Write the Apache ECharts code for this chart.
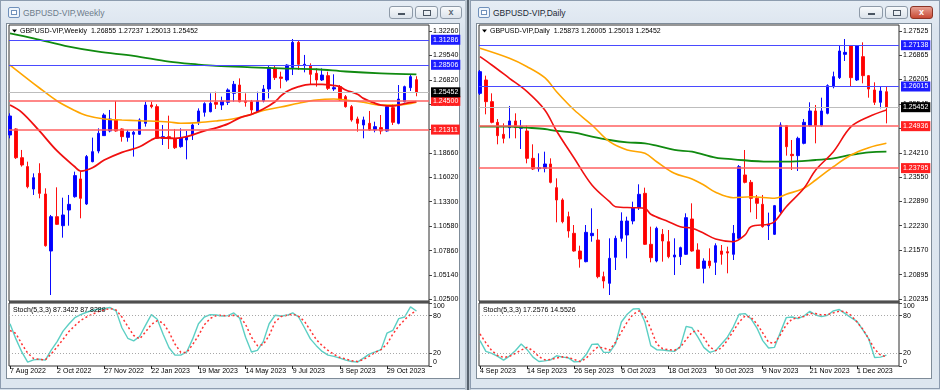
<!DOCTYPE html>
<html><head><meta charset="utf-8">
<script src="https://cdn.jsdelivr.net/npm/echarts@6.0.0/dist/echarts.min.js"></script>
<style>
html,body{margin:0;padding:0;background:#d6e0ea;}
#wrap{position:relative;width:940px;height:390px;overflow:hidden;background:#d6e0ea;font-family:"Liberation Sans",Arial,sans-serif;}
.win{position:absolute;top:0;height:389px;border:1px solid #8d9caf;background:linear-gradient(#e6edf5,#dbe4ee 30px,#dde6ef);box-sizing:border-box;}
.client{position:absolute;top:23px;height:356px;background:#fff;border:1px solid #7f8c99;box-sizing:border-box;}
.ttl{position:absolute;top:8px;line-height:10px;font-size:8.5px;white-space:nowrap;}
.ico{position:absolute;top:7px;width:12px;height:11px;border:1px solid #6f90bb;border-radius:2px;background:#eef4fb;box-sizing:border-box;}
.ico i{position:absolute;left:2px;top:2px;width:6px;height:5px;border:1px solid #6f90bb;box-sizing:border-box;background:#fff;}
.btn{position:absolute;top:6px;height:13px;border:1px solid #8e9aa8;border-radius:3px;background:linear-gradient(#f8fafc,#dce3eb);box-sizing:border-box;}
.mn{position:absolute;left:8px;top:6px;width:7px;height:2px;background:#4a5562;}
.rs{position:absolute;left:7px;top:3px;width:8px;height:6px;border:1px solid #4a5562;box-sizing:border-box;}
.cx{position:absolute;left:0;right:0;top:0;line-height:11px;text-align:center;font-size:9px;font-weight:bold;color:#5b6673;}
.red{background:linear-gradient(#e7a092,#c84a35);border-color:#8c3426;}
.red .cx{color:#fff;}
.sep{position:absolute;top:301px;width:421px;height:3px;background:#707070;}
#chart{position:absolute;left:0;top:0;width:940px;height:390px;z-index:2;}
</style>
</head>
<body>
<div id="wrap">
  <div class="win" style="left:0;width:466px;"></div>
  <div style="position:absolute;left:465px;top:0;width:6px;height:390px;background:#b9c4cf;"></div>
  <div style="position:absolute;left:467px;top:0;width:2px;height:390px;background:#58636f;"></div>
  <div class="win" style="left:470px;width:470px;"></div>

  <div class="client" style="left:6px;width:454px;"></div>
  <div class="client" style="left:476px;width:456px;"></div>
  <div class="sep" style="left:9px;"></div>
  <div class="sep" style="left:479px;"></div>

  <div class="ico" style="left:8px;"><i></i></div>
  <div class="ttl" style="left:23px;color:#6d7b8a;">GBPUSD-VIP,Weekly</div>
  <div class="btn" style="left:389px;width:24px;"><div class="mn"></div></div>
  <div class="btn" style="left:415px;width:23px;"><div class="rs"></div></div>
  <div class="btn" style="left:440px;width:22px;"><div class="cx">x</div></div>

  <div class="ico" style="left:478px;"><i></i></div>
  <div class="ttl" style="left:493px;color:#1e2935;">GBPUSD-VIP,Daily</div>
  <div class="btn" style="left:859px;width:24px;"><div class="mn"></div></div>
  <div class="btn" style="left:885px;width:23px;"><div class="rs"></div></div>
  <div class="btn red" style="left:910px;width:23px;"><div class="cx">x</div></div>

  <div id="chart"></div>
</div>
<script>
// ---------------- WEEKLY DATA (70 bars, 7 Aug 2022 ... 3 Dec 2023) ----------------
const weeklyOpen = [1.2071,1.2138,1.1819,1.1720,1.1471,1.1645,1.1416,1.0783,1.1164,1.1064,1.1238,1.1386,1.1583,1.1305,1.1775,1.1893,1.2064,1.2116,1.2238,1.2138,1.2045,1.2079,1.2079,1.2201,1.2404,1.2386,1.2034,1.2053,1.2027,1.1942,1.2016,1.2071,1.2219,1.2323,1.2330,1.2434,1.2404,1.2434,1.2534,1.2626,1.2449,1.2441,1.2330,1.2449,1.2582,1.2811,1.2715,1.2682,1.2819,1.3100,1.2848,1.2841,1.2756,1.2682,1.2730,1.2582,1.2608,1.2497,1.2386,1.2249,1.2182,1.2201,1.2127,1.2153,1.2116,1.2375,1.2201,1.2441,1.2597,1.26855];
const weeklyHigh = [1.2312,1.2145,1.1905,1.1775,1.1645,1.1757,1.1479,1.1183,1.1490,1.1375,1.1405,1.1664,1.1664,1.1849,1.2042,1.2145,1.2312,1.2349,1.2449,1.2145,1.2127,1.2116,1.2256,1.2441,1.2441,1.2412,1.2182,1.2286,1.2138,1.2145,1.2116,1.2201,1.2367,1.2434,1.2534,1.2552,1.2497,1.2589,1.2671,1.2700,1.2534,1.2460,1.2552,1.2626,1.2848,1.2848,1.2774,1.2856,1.3137,1.3126,1.2960,1.2867,1.2811,1.2811,1.2774,1.2745,1.2626,1.2515,1.2404,1.2275,1.2275,1.2338,1.2219,1.2293,1.2404,1.2412,1.2626,1.2619,1.2745,1.27237];
const weeklyLow = [1.2034,1.1805,1.1720,1.1479,1.1405,1.1368,1.0831,1.0294,1.1072,1.0931,1.1064,1.1375,1.1146,1.1294,1.1768,1.1868,1.2060,1.2101,1.2108,1.1997,1.1997,1.1831,1.2071,1.2164,1.2367,1.2027,1.1960,1.1916,1.1916,1.1930,1.1801,1.2016,1.2182,1.2275,1.2323,1.2360,1.2349,1.2404,1.2441,1.2434,1.2386,1.2301,1.2323,1.2434,1.2478,1.2682,1.2589,1.2663,1.2737,1.2793,1.2767,1.2626,1.2608,1.2671,1.2571,1.2560,1.2449,1.2375,1.2219,1.2108,1.2034,1.2116,1.2101,1.2079,1.2108,1.2182,1.2190,1.2434,1.2560,1.25013];
const weeklyClose = [1.2282,1.1819,1.1738,1.1497,1.1597,1.1423,1.0842,1.1164,1.1079,1.1183,1.1301,1.1620,1.1368,1.1831,1.1886,1.2090,1.2293,1.2249,1.2116,1.2053,1.2101,1.2101,1.2238,1.2404,1.2386,1.2034,1.2053,1.2034,1.1930,1.2042,1.2053,1.2182,1.2338,1.2419,1.2423,1.2412,1.2449,1.2571,1.2634,1.2441,1.2434,1.2349,1.2449,1.2582,1.2819,1.2708,1.2700,1.2848,1.3100,1.2856,1.2856,1.2745,1.2682,1.2737,1.2589,1.2597,1.2460,1.2386,1.2238,1.2201,1.2238,1.2127,1.2164,1.2116,1.2386,1.2212,1.2470,1.2608,1.2719,1.25452];
// moving averages (bar number -> value)
const weeklyGreenBars = [1,5,11,16,22,28,33,36,42,47,53,58,64,70];
const weeklyGreen = [1.3200,1.3145,1.3052,1.2996,1.2950,1.2885,1.2853,1.2838,1.2823,1.2812,1.2801,1.2776,1.2756,1.2745];
const weeklyOrangeBars = [1,6,9,12,14,17,20,23,28,30,33,36,39,41,44,47,50,53,56,58,61,64,67,70];
const weeklyOrange = [1.2848,1.2593,1.2449,1.2343,1.2288,1.2249,1.2238,1.2230,1.2216,1.2201,1.2208,1.2227,1.2252,1.2282,1.2343,1.2382,1.2423,1.2460,1.2471,1.2460,1.2434,1.2404,1.2404,1.2434];
const weeklyRedBars = [1,3,6,9,12,13,15,17,20,23,25,26,29,31,34,36,38,40,42,44,46,47,48,50,52,54,56,57,58,60,61,63,64,66,68,70];
const weeklyRed = [1.2404,1.2323,1.2116,1.1894,1.1719,1.1671,1.1708,1.1793,1.1879,1.1941,1.2016,1.2041,1.2034,1.2052,1.2116,1.2150,1.2195,1.2262,1.2301,1.2360,1.2441,1.2505,1.2555,1.2608,1.2634,1.2634,1.2620,1.2608,1.2571,1.2523,1.2478,1.2423,1.2404,1.2393,1.2419,1.2441];
const weeklyStochK = [67.1,43.0,22.3,6.0,9.8,10.8,9.3,25.3,38.7,55.3,66.6,76.7,81.5,85.3,88.5,90.1,91.2,92.8,87.5,60.7,44.0,39.8,46.8,64.4,81.5,74.1,50.4,29.0,17.2,17.2,22.3,42.6,67.1,77.8,81.5,81.0,79.4,80.0,84.3,75.7,45.7,22.3,24.8,38.7,67.1,80.5,79.4,80.5,84.3,77.8,60.7,43.0,32.3,23.2,17.3,15.2,12.5,9.3,7.1,6.1,12.5,18.9,22.3,26.0,52.1,56.4,75.1,77.8,93.9,87.3];
const weeklyStochD = [56.4,51.6,34.9,20.5,12.0,10.3,9.8,19.0,30.3,42.2,54.8,63.9,72.4,77.8,82.1,86.4,89.1,91.2,89.1,77.8,62.8,48.4,43.0,53.9,66.0,71.9,68.2,53.9,34.9,21.6,21.6,33.9,48.4,65.5,75.5,79.9,80.5,79.4,80.5,78.9,66.0,45.7,32.3,33.9,48.4,69.8,78.4,80.5,82.1,78.9,70.9,56.4,41.9,32.3,24.8,18.4,13.6,11.4,8.2,7.1,10.3,15.7,21.6,25.9,34.9,50.5,63.4,73.5,82.1,87.5];
const weeklyDateBars = [1,9,17,25,33,41,49,57,65];
const weeklyDateLabels = ['7 Aug 2022','2 Oct 2022','27 Nov 2022','22 Jan 2023','19 Mar 2023','14 May 2023','9 Jul 2023','3 Sep 2023','29 Oct 2023'];
const weeklyPriceTicks = [1.02500,1.05140,1.07860,1.10580,1.13300,1.16020,1.18660,1.21380,1.24100,1.26820,1.29540,1.32260];
const weeklyBlueLevels = [1.31286,1.28506];
const weeklyRedLevels = [1.24500,1.21311];

// ---------------- DAILY DATA (70 bars, 4 Sep 2023 ... 8 Dec 2023) ----------------
const dailyOpen = [1.25829,1.26192,1.25603,1.25040,1.24714,1.24895,1.25077,1.24877,1.24805,1.24061,1.23780,1.23789,1.23907,1.23263,1.22928,1.22474,1.22021,1.21540,1.21250,1.21957,1.21839,1.20842,1.20661,1.21368,1.21885,1.21975,1.22356,1.22719,1.23109,1.21722,1.21268,1.21994,1.21794,1.21377,1.21386,1.21450,1.22411,1.21568,1.21069,1.21268,1.21232,1.21540,1.21522,1.21450,1.21885,1.23608,1.23408,1.22973,1.22810,1.22229,1.21994,1.22610,1.24950,1.24170,1.24134,1.24469,1.24950,1.25349,1.24950,1.25285,1.26011,1.26256,1.26890,1.27126,1.26192,1.26827,1.26310,1.25920,1.25585,1.25873];
const dailyHigh = [1.26464,1.26310,1.25829,1.25131,1.25013,1.25485,1.25285,1.25104,1.24950,1.24442,1.24197,1.24242,1.24061,1.23517,1.22973,1.22610,1.22247,1.21685,1.22247,1.22701,1.22139,1.20978,1.21885,1.21957,1.22592,1.22474,1.22882,1.23354,1.23263,1.22202,1.22202,1.22139,1.22111,1.21885,1.21658,1.22565,1.22837,1.21749,1.21341,1.21613,1.21749,1.21703,1.21658,1.22247,1.23880,1.24288,1.23472,1.23064,1.23064,1.22584,1.22792,1.25040,1.24968,1.24560,1.24650,1.25131,1.25585,1.25512,1.25711,1.26074,1.26419,1.27144,1.27307,1.27144,1.27144,1.27217,1.26328,1.26129,1.26011,1.26005];
const dailyLow = [1.25784,1.25258,1.25013,1.24442,1.24469,1.24605,1.24605,1.24315,1.23925,1.23744,1.23698,1.23680,1.23381,1.22320,1.22293,1.21903,1.21522,1.21087,1.21232,1.21794,1.20797,1.20524,1.20343,1.21023,1.21794,1.21341,1.22266,1.22656,1.21703,1.21232,1.21232,1.21250,1.21341,1.20887,1.21159,1.21431,1.21522,1.21051,1.20661,1.21069,1.20887,1.21168,1.20933,1.21295,1.21839,1.23381,1.22592,1.22411,1.22175,1.21839,1.21975,1.22565,1.24134,1.23744,1.23716,1.24442,1.24923,1.24469,1.24923,1.25258,1.25965,1.26219,1.26709,1.26011,1.26165,1.26101,1.25711,1.25512,1.25421,1.25013];
const dailyClose = [1.26419,1.25603,1.25040,1.24678,1.24605,1.25077,1.24895,1.24923,1.24061,1.23771,1.23807,1.23907,1.23408,1.22928,1.22338,1.22084,1.21540,1.21323,1.22048,1.22021,1.20842,1.20724,1.21341,1.21885,1.22356,1.22356,1.22719,1.23082,1.21722,1.21359,1.22157,1.21812,1.21386,1.21431,1.21631,1.22447,1.21540,1.21069,1.21268,1.21141,1.21685,1.21450,1.21486,1.22021,1.23834,1.23408,1.22973,1.22837,1.22202,1.22266,1.22774,1.24968,1.24378,1.24134,1.24605,1.25040,1.25349,1.24950,1.25349,1.26038,1.26283,1.26981,1.26944,1.26256,1.27126,1.26310,1.25947,1.25585,1.25893,1.25452];
const dailyRedBars = [1,3,6,9,12,14,17,20,23,24,27,29,30,33,35,37,39,41,44,46,47,50,51,53,56,58,61,64,67,70];
const dailyRed = [1.26826,1.26600,1.26238,1.25874,1.25376,1.24805,1.24062,1.23336,1.22881,1.22745,1.22718,1.22702,1.22539,1.22337,1.22201,1.22158,1.22022,1.21867,1.21793,1.21976,1.22201,1.22267,1.22337,1.22745,1.23246,1.23744,1.24242,1.24922,1.25194,1.25376];
const dailyOrangeBars = [1,6,9,12,14,17,20,23,26,29,31,34,37,39,41,44,47,51,53,56,58,61,64,67,70];
const dailyOrange = [1.27054,1.26782,1.26554,1.26255,1.25874,1.25376,1.24968,1.24514,1.24288,1.24198,1.23969,1.23654,1.23499,1.23336,1.23137,1.22990,1.23017,1.22974,1.23083,1.23246,1.23472,1.23833,1.24152,1.24350,1.24470];
const dailyGreenBars = [1,6,9,12,14,17,20,23,26,29,31,34,37,41,44,50,53,58,61,64,67,70];
const dailyGreen = [1.24922,1.24922,1.24894,1.24859,1.24805,1.24758,1.24650,1.24560,1.24497,1.24470,1.24405,1.24288,1.24242,1.24078,1.24035,1.23969,1.23969,1.24016,1.24062,1.24152,1.24225,1.24242];
const dailyStochK = [40.3,23.2,20.0,15.2,9.3,15.7,24.3,35.0,25.9,14.1,7.1,8.2,9.8,16.2,14.1,13.0,6.6,7.1,17.8,34.4,35.0,21.6,21.6,35.0,69.8,82.1,90.5,91.1,69.8,32.3,25.9,25.3,24.3,23.2,30.7,62.8,60.7,45.7,29.6,21.6,24.3,35.0,45.7,61.8,82.1,83.2,75.1,60.7,40.3,28.5,29.6,53.7,76.8,77.8,75.1,79.4,86.9,81.0,78.4,80.5,87.5,89.6,83.2,76.8,70.9,57.4,42.9,13.6,14.1,17.3];
const dailyStochD = [51.0,36.6,24.3,16.8,13.6,15.2,20.0,25.3,29.6,24.3,14.6,9.8,10.3,12.5,14.6,13.6,10.3,7.1,11.9,22.1,30.2,28.6,25.3,37.7,53.7,69.8,82.1,87.5,78.9,59.0,35.0,27.5,25.9,24.8,29.6,41.9,53.7,56.4,45.1,30.2,24.3,28.6,40.8,55.3,69.8,79.4,77.3,67.1,52.6,37.7,36.0,49.4,65.5,74.6,76.8,78.4,83.2,83.2,81.0,81.5,84.3,86.9,86.4,80.5,69.8,58.5,42.9,26.9,17.3,14.6];
const dailyDateBars = [1,9,17,25,33,41,49,57,65];
const dailyDateLabels = ['4 Sep 2023','14 Sep 2023','26 Sep 2023','6 Oct 2023','18 Oct 2023','30 Oct 2023','9 Nov 2023','21 Nov 2023','1 Dec 2023'];
const dailyPriceTicks = [1.20235,1.20895,1.21570,1.22230,1.22890,1.23550,1.24210,1.24870,1.25545,1.26205,1.26865,1.27525];
const dailyBlueLevels = [1.27138,1.26015];
const dailyRedLevels = [1.24936,1.23795];

const currentPrice = 1.25452;
const stochTicks = [0,20,80,100];

// ---------------- CHART ----------------
const FONT = '"Liberation Sans", Arial, sans-serif';
const XMIN = 0.83, XMAX = 72.14;

const rows = (o,h,l,c) => o.map((v,i)=>[i+1, v, c[i], l[i], h[i]]);
const pairs = (xs, ys) => xs.map((x,i)=>[x, ys[i]]);
const seq = vals => vals.map((v,i)=>[i+1, v]);

function grid(left, top, height){
  return {left, top, width:420, height, show:true, borderColor:'#2e2e2e', borderWidth:1,
          backgroundColor:'#fff', containLabel:false, outerBoundsMode:'none'};
}
function mainX(g){
  return {type:'value', gridIndex:g, min:XMIN, max:XMAX, axisLine:{show:false}, axisTick:{show:false},
          axisLabel:{show:false}, splitLine:{show:false}};
}
function stochX(g, bars, labels){
  return {type:'value', gridIndex:g, min:XMIN, max:XMAX, position:'bottom',
          axisLine:{show:false}, splitLine:{show:false},
          axisTick:{show:true, customValues:bars, length:3, lineStyle:{color:'#222', width:1}},
          axisLabel:{show:true, customValues:bars, formatter:v=>labels[bars.indexOf(v)],
                     align:'left', fontSize:7, fontFamily:FONT, color:'#000', margin:2, hideOverlap:false}};
}
function mainY(g, min, max, ticks){
  return {type:'value', gridIndex:g, position:'right', min, max, scale:true,
          axisLine:{show:false}, splitLine:{show:false},
          axisTick:{show:true, customValues:ticks, length:3, lineStyle:{color:'#444'}},
          axisLabel:{customValues:ticks, formatter:v=>v.toFixed(5), fontSize:7, fontFamily:FONT,
                     color:'#000', margin:4, hideOverlap:false}};
}
function stochY(g){
  return {type:'value', gridIndex:g, position:'right', min:0, max:100,
          axisLine:{show:false}, splitLine:{show:false},
          axisTick:{show:true, customValues:stochTicks, length:3, lineStyle:{color:'#444'}},
          axisLabel:{customValues:stochTicks, formatter:v=>String(v), fontSize:7, fontFamily:FONT,
                     color:'#000', margin:4, hideOverlap:false,
                     verticalAlignMinLabel:'bottom', verticalAlignMaxLabel:'top'}};
}
function level(v, lineColor, boxColor, width){
  return {yAxis:v, lineStyle:{color:lineColor, width:width, type:'solid'},
          label:{show:true, position:'end', distance:2, formatter:()=>v.toFixed(5), color:'#fff',
                 backgroundColor:boxColor, padding:[1,2,1,2], fontSize:7, fontFamily:FONT, lineHeight:8}};
}
function levelLine(v, lineColor, boxColor, width){
  return {silent:true, symbol:['none','none'], animation:false, precision:5,
          data:[level(v, lineColor, boxColor, width)]};
}
function candles(xi, o,h,l,c, blues, reds){
  return {type:'candlestick', xAxisIndex:xi, yAxisIndex:xi, data:rows(o,h,l,c),
          encode:{x:0, y:[1,2,3,4]}, barWidth:3, z:3,
          itemStyle:{color:'#0000ff', color0:'#ff0000', borderColor:'#0a0aff', borderColor0:'#ff1010', borderWidth:1},
          markLine:{silent:true, symbol:['none','none'], animation:false, precision:5,
            data:blues.map(v=>level(v,'#4a4aff','#1c1cff',1.2))
              .concat(reds.map(v=>level(v,'#ff6060','#ff2020',1.5)))}};
}
function ma(xi, data, color, width, extra){
  const s = {type:'line', xAxisIndex:xi, yAxisIndex:xi, data, symbol:'none', smooth:0.35, z:4,
          lineStyle:{color, width}};
  if (extra) s.markLine = extra;
  return s;
}
function stoch(xi, k, d){
  return [
    {type:'line', xAxisIndex:xi, yAxisIndex:xi, data:seq(k), symbol:'none', z:3,
     lineStyle:{color:'#5ccfc4', width:1.4},
     markLine:{silent:true, symbol:['none','none'], animation:false, label:{show:false},
       lineStyle:{color:'#a8a8a8', type:[1,2], width:1}, data:[{yAxis:80},{yAxis:20}]}},
    {type:'line', xAxisIndex:xi, yAxisIndex:xi, data:seq(d), symbol:'none', z:3,
     lineStyle:{color:'#ff3434', width:1.5, type:[2,2.5]}}
  ];
}
function header(x, title, stochTitle){
  return [
    {type:'polygon', z:100, shape:{points:[[x,29.5],[x+5,29.5],[x+2.5,32.5]]}, style:{fill:'#000'}},
    {type:'text', z:100, x:x+8, y:31, style:{text:title, fill:'#000', font:'7px '+FONT, verticalAlign:'middle'}},
    {type:'text', z:100, x:x+1, y:310, style:{text:stochTitle, fill:'#000', font:'7px '+FONT, verticalAlign:'middle'}}
  ];
}

const chart = echarts.init(document.getElementById('chart'), null, {renderer:'canvas', devicePixelRatio:1});
chart.setOption({
  animation:false,
  backgroundColor:'transparent',
  textStyle:{fontFamily:FONT},
  grid:[grid(9,25,276), grid(9,303,63), grid(479,25,276), grid(479,303,63)],
  xAxis:[mainX(0), stochX(1, weeklyDateBars, weeklyDateLabels), mainX(2), stochX(3, dailyDateBars, dailyDateLabels)],
  yAxis:[mainY(0,1.02277,1.32926,weeklyPriceTicks), stochY(1), mainY(2,1.20180,1.27688,dailyPriceTicks), stochY(3)],
  graphic:{elements:header(12,'GBPUSD-VIP,Weekly  1.26855 1.27237 1.25013 1.25452','Stoch(5,3,3) 87.3422 87.8289')
            .concat(header(482,'GBPUSD-VIP,Daily  1.25873 1.26005 1.25013 1.25452','Stoch(5,3,3) 17.2576 14.5526'))},
  series:[
    candles(0, weeklyOpen, weeklyHigh, weeklyLow, weeklyClose, weeklyBlueLevels, weeklyRedLevels),
    ma(0, pairs(weeklyGreenBars, weeklyGreen), '#108a10', 1.8, levelLine(currentPrice,'#bdbdbd','#000000',1)),
    ma(0, pairs(weeklyOrangeBars, weeklyOrange), '#ffa500', 1.6),
    ma(0, pairs(weeklyRedBars, weeklyRed), '#f01010', 1.8),
    ...stoch(1, weeklyStochK, weeklyStochD),
    candles(2, dailyOpen, dailyHigh, dailyLow, dailyClose, dailyBlueLevels, dailyRedLevels),
    ma(2, pairs(dailyGreenBars, dailyGreen), '#108a10', 1.8, levelLine(currentPrice,'#bdbdbd','#000000',1)),
    ma(2, pairs(dailyOrangeBars, dailyOrange), '#ffa500', 1.6),
    ma(2, pairs(dailyRedBars, dailyRed), '#f01010', 1.6),
    ...stoch(3, dailyStochK, dailyStochD)
  ]
});
</script>
</body></html>
